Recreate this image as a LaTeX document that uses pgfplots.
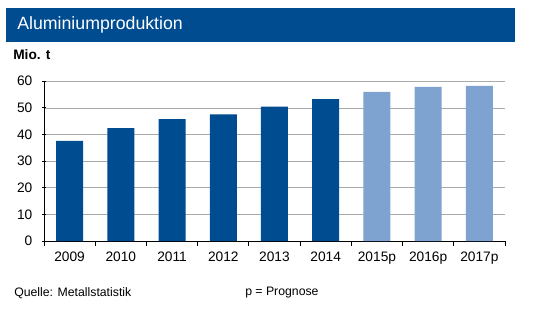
\documentclass[border=0pt]{standalone}
\usepackage{fontspec}
\setmainfont{Liberation Sans}
\usepackage{pgfplots}
\pgfplotsset{compat=1.18}
\definecolor{dblue}{RGB}{0,76,145}
\definecolor{lblue}{RGB}{127,163,208}
\definecolor{gridgray}{RGB}{170,170,170}
\begin{document}
\begin{tikzpicture}[x=0.75pt,y=0.75pt]
\path[use as bounding box] (0,0) rectangle (538,311);
\fill[dblue] (6,269) rectangle (515,303);
\node[anchor=west, white, inner sep=0pt, font=\fontsize{13.3}{15}\selectfont] at (17,286) {Aluminiumproduktion};
\node[anchor=west, inner sep=0pt, font=\bfseries\fontsize{10.3}{12}\selectfont] at (13,256) {Mio. t};
\node[anchor=west, inner sep=0pt, font=\fontsize{9.2}{11}\selectfont] at (14,18) {Quelle: Metallstatistik};
\node[anchor=west, inner sep=0pt, font=\fontsize{9.2}{11}\selectfont] at (245,18) {p = Prognose};
\begin{axis}[
  at={(33pt,52.5pt)}, anchor=south west,
  scale only axis, width=345.75pt, height=119.8pt,
  xmin=-0.5, xmax=8.5, ymin=0, ymax=60,
  ytick={0,10,...,60},
  xtick={0,...,8},
  xticklabels={2009,2010,2011,2012,2013,2014,2015p,2016p,2017p},
  minor xtick={-0.5,0.5,...,8.5},
  major x tick style={draw=none},
  minor tick length=3.5pt,
  major tick length=2.5pt,
  tick align=outside,
  axis x line=bottom, axis y line=left,
  axis line style={-, black, line width=0.6pt},
  ymajorgrids, grid style={gridgray, line width=0.5pt},
  tick style={black, line width=0.6pt},
  tick label style={font=\fontsize{10.3}{12}\selectfont},
  /pgf/number format/assume math mode=true,
  xticklabel style={yshift=-2pt},
  yticklabel style={xshift=-4pt},
  ybar, bar width=20.25pt,
]
\addplot[fill=dblue, draw=none, bar shift=0pt] coordinates {(0,37.6) (1,42.4) (2,45.8) (3,47.6) (4,50.5) (5,53.3)};
\addplot[fill=lblue, draw=none, bar shift=0pt] coordinates {(6,56.0) (7,57.9) (8,58.3)};
\end{axis}
\end{tikzpicture}
\end{document}
